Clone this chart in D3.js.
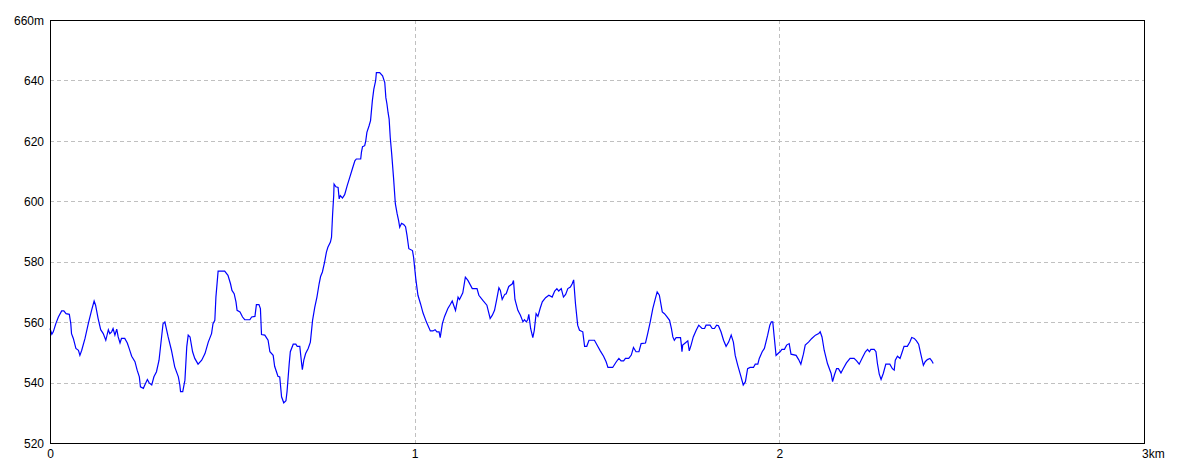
<!DOCTYPE html>
<html><head><meta charset="utf-8">
<script src="https://cdn.jsdelivr.net/npm/d3@7"></script>
<style>body{margin:0;background:#fff;overflow:hidden}</style>
</head><body>
<svg id="c" width="1184" height="473"></svg>
<script>
const distKm = [0.000,0.005,0.009,0.016,0.023,0.032,0.038,0.044,0.053,0.057,0.059,0.064,0.071,0.078,0.082,0.087,0.096,0.105,0.114,0.121,0.125,0.132,0.139,0.146,0.153,0.160,0.164,0.169,0.173,0.178,0.183,0.187,0.192,0.196,0.205,0.212,0.217,0.224,0.233,0.239,0.245,0.248,0.256,0.260,0.267,0.272,0.279,0.285,0.292,0.299,0.306,0.310,0.315,0.324,0.333,0.342,0.352,0.356,0.358,0.364,0.370,0.375,0.379,0.384,0.391,0.397,0.406,0.416,0.425,0.434,0.443,0.447,0.452,0.455,0.461,0.479,0.488,0.495,0.499,0.505,0.510,0.513,0.521,0.528,0.534,0.548,0.553,0.562,0.566,0.573,0.577,0.580,0.589,0.598,0.603,0.612,0.616,0.621,0.625,0.630,0.635,0.641,0.647,0.650,0.656,0.659,0.667,0.674,0.678,0.685,0.690,0.692,0.696,0.701,0.708,0.714,0.720,0.726,0.732,0.738,0.742,0.747,0.753,0.758,0.762,0.769,0.772,0.775,0.778,0.779,0.784,0.790,0.793,0.796,0.802,0.808,0.815,0.822,0.829,0.836,0.840,0.852,0.854,0.857,0.863,0.866,0.869,0.875,0.879,0.884,0.888,0.893,0.895,0.904,0.912,0.918,0.921,0.924,0.927,0.930,0.933,0.937,0.942,0.947,0.952,0.956,0.959,0.964,0.970,0.975,0.979,0.984,0.994,0.997,1.003,1.009,1.016,1.023,1.032,1.043,1.050,1.056,1.061,1.067,1.070,1.076,1.082,1.091,1.098,1.103,1.107,1.112,1.119,1.123,1.132,1.139,1.146,1.158,1.171,1.176,1.187,1.198,1.207,1.213,1.219,1.225,1.231,1.235,1.240,1.247,1.251,1.258,1.268,1.271,1.275,1.283,1.290,1.297,1.301,1.306,1.310,1.313,1.318,1.324,1.328,1.333,1.338,1.344,1.350,1.359,1.368,1.377,1.384,1.390,1.395,1.402,1.408,1.414,1.420,1.427,1.432,1.436,1.441,1.447,1.452,1.461,1.466,1.472,1.478,1.493,1.502,1.509,1.518,1.525,1.530,1.543,1.553,1.560,1.566,1.573,1.578,1.587,1.594,1.600,1.607,1.615,1.621,1.633,1.639,1.646,1.653,1.660,1.665,1.671,1.679,1.685,1.691,1.699,1.704,1.708,1.712,1.717,1.729,1.731,1.733,1.735,1.742,1.749,1.753,1.758,1.764,1.772,1.779,1.788,1.795,1.799,1.810,1.816,1.822,1.828,1.833,1.840,1.847,1.854,1.861,1.868,1.874,1.879,1.886,1.895,1.901,1.907,1.913,1.920,1.929,1.934,1.941,1.945,1.953,1.959,1.968,1.974,1.978,1.982,1.986,1.991,1.998,2.002,2.007,2.014,2.020,2.027,2.032,2.046,2.053,2.059,2.066,2.071,2.080,2.089,2.099,2.108,2.112,2.117,2.123,2.132,2.142,2.146,2.151,2.157,2.162,2.169,2.175,2.184,2.194,2.205,2.212,2.219,2.228,2.236,2.242,2.247,2.251,2.260,2.265,2.269,2.274,2.279,2.285,2.292,2.303,2.310,2.315,2.318,2.324,2.331,2.336,2.342,2.351,2.358,2.363,2.370,2.376,2.382,2.388,2.395,2.400,2.406,2.413,2.418,2.422];
const elevM = [557.9,556,556.8,559.5,561.7,563.7,563.7,562.8,562.6,559.5,556.2,554.6,551.3,550.7,549,550.7,554.6,559.5,563.9,567,565.6,561.2,557.5,556.2,554,557.5,556.2,556.8,557.9,555.7,557.7,555.1,553.1,554.6,554.6,553.1,551.3,548.7,546.9,544.1,541.9,538.6,538.1,539.2,541,539.9,539.2,541.9,543.6,547.4,555.1,559.5,560.1,555.1,550.7,545.2,541.9,539.2,537,537,540.8,551.8,555.7,555.1,550.2,548,546.1,547.4,549.6,553.4,556.2,559.5,560.6,568.3,576.9,576.9,575.5,572.7,570.5,569.4,566.7,563.9,563.4,561.7,560.8,560.8,561.7,561.9,565.8,565.8,564.5,555.9,555.7,554,550.2,549,545.4,543.6,542.1,541.9,535.3,533.3,534,537,546.3,550.2,552.7,552.7,552,552,546.3,544.3,547.4,549.6,551.3,553.4,560.6,564.9,568.3,572.7,575.1,576.6,579.9,583.2,584.8,586.5,588.1,595.8,601.9,605.7,604.8,604.6,600.8,601.9,601.1,602.2,605.2,607.9,610.7,613.4,614,614,616.2,618.1,618.4,620.1,622.8,625,626.7,633.3,637.1,639.9,642.6,642.6,641.5,639.3,634.3,632.2,629.4,627.2,621.2,615.7,607.9,599.2,595.8,593.6,591.4,592.7,592.3,591.6,588.7,584.3,583.7,581.5,574.4,568.9,566.1,563,560.1,557.1,557.1,557.5,556.8,556.8,554.9,559.5,561.9,564.5,565.9,567,565.6,563.9,568.3,567.5,569.7,574.9,573.8,571.1,571.1,568.9,567.2,565.6,561.2,562.3,563.9,567.5,571.4,570.5,567.5,569.2,569.4,571.8,572.7,573.8,567.5,563.9,562.3,560.1,560.8,560.1,560.8,562.6,557.9,554.9,557.3,562.8,561.9,564.5,566.7,568.1,568.9,568.3,570.3,571.1,570.3,571.1,568.3,569.2,571.1,571.6,572.7,574,566.1,559,557.3,556.8,552,552,554,554,552,550.5,548.7,546.9,545,545,546.9,548,547.2,547.2,548,548,549.1,551.6,550.2,550.2,552.9,553.1,556.2,560.1,564.5,567.8,570,568.9,563.4,562.8,561.9,560.6,557.9,555.1,554,554.9,554.9,552.9,550.2,552.4,553.1,553.8,550.5,552.4,555.1,557.3,559,557.9,557.9,559,559,557.9,557.9,559,558.8,556.8,554,552,553.4,555.7,553.4,549,545.7,541.9,539.2,540.3,544.6,545,545,546.1,546.1,548,550.2,551.3,555.7,559,560.1,560.1,555.1,549,549.8,550.2,551,551,552.4,552.9,549.4,549,547.6,546.1,549.4,552.4,553.4,554.6,555.7,556.2,556.8,555.1,550.7,546.3,543,540.3,542.5,544.6,544.6,543.2,544.6,546.5,548,548,547.2,546.1,548.3,550.2,551,550.2,551,551,550.2,546.3,542.8,541,543,546.1,546.1,544.6,544.1,547.4,548.7,548,549.8,552,552,553.4,554.9,554.6,553.8,552.7,549.4,545.7,546.9,547.6,548,547.2,546.3];
const yTicks = [520,540,560,580,600,620,640,660];
const xTicks = [0,1,2,3];
const yDomain = [520,660];
const xDomain = [0,3];

const svg = d3.select("#c");
const L = 50, R = 1144, T = 20, B = 443;
const x = d3.scaleLinear().domain(xDomain).range([L, R]);
const y = d3.scaleLinear().domain(yDomain).range([B, T]);
const font = "'Liberation Sans Narrow','Arial Narrow','Liberation Sans',sans-serif";

// gridlines
svg.append("g").selectAll("line").data(yTicks.filter(d => d > 520 && d < 660)).join("line")
  .attr("x1", L).attr("x2", R)
  .attr("y1", d => Math.round(y(d)) + 0.5).attr("y2", d => Math.round(y(d)) + 0.5)
  .attr("stroke", "#c0c0c0").attr("stroke-dasharray", "4,3").attr("stroke-width", 1);
svg.append("g").selectAll("line").data(xTicks.filter(d => d > 0 && d < 3)).join("line")
  .attr("y1", T).attr("y2", B)
  .attr("x1", d => Math.round(x(d)) + 0.5).attr("x2", d => Math.round(x(d)) + 0.5)
  .attr("stroke", "#c0c0c0").attr("stroke-dasharray", "4,3").attr("stroke-width", 1);

// line
const line = d3.line().x((d, i) => x(distKm[i])).y((d, i) => y(elevM[i]));
svg.append("path").datum(elevM).attr("d", line)
  .attr("fill", "none").attr("stroke", "#0000ff").attr("stroke-width", 1.2)
  .attr("stroke-linejoin", "miter");

// frame
svg.append("rect").attr("x", L + 0.5).attr("y", T + 0.5).attr("width", R - L).attr("height", B - T)
  .attr("fill", "none").attr("stroke", "#000").attr("stroke-width", 1);

// y axis labels
const yAxis = d3.axisLeft(y).tickValues(yTicks).tickSize(0).tickPadding(6)
  .tickFormat(d => d === 660 ? "660m" : String(d));
const gy = svg.append("g").attr("transform", `translate(${L},0)`).call(yAxis);
gy.select(".domain").remove();
gy.selectAll("text").attr("font-family", font).attr("font-size", 12).attr("fill", "#000").attr("dy", "0.35em");

// x axis labels
const xAxis = d3.axisBottom(x).tickValues(xTicks).tickSize(0).tickPadding(6)
  .tickFormat(d => d === 3 ? "3km" : String(d));
const gx = svg.append("g").attr("transform", `translate(0,${B})`).call(xAxis);
gx.select(".domain").remove();
gx.selectAll("text").attr("font-family", font).attr("font-size", 12).attr("fill", "#000");
gx.selectAll("text").filter(d => d === 3).attr("text-anchor", "start").attr("dx", -2.5);
</script>
</body></html>
